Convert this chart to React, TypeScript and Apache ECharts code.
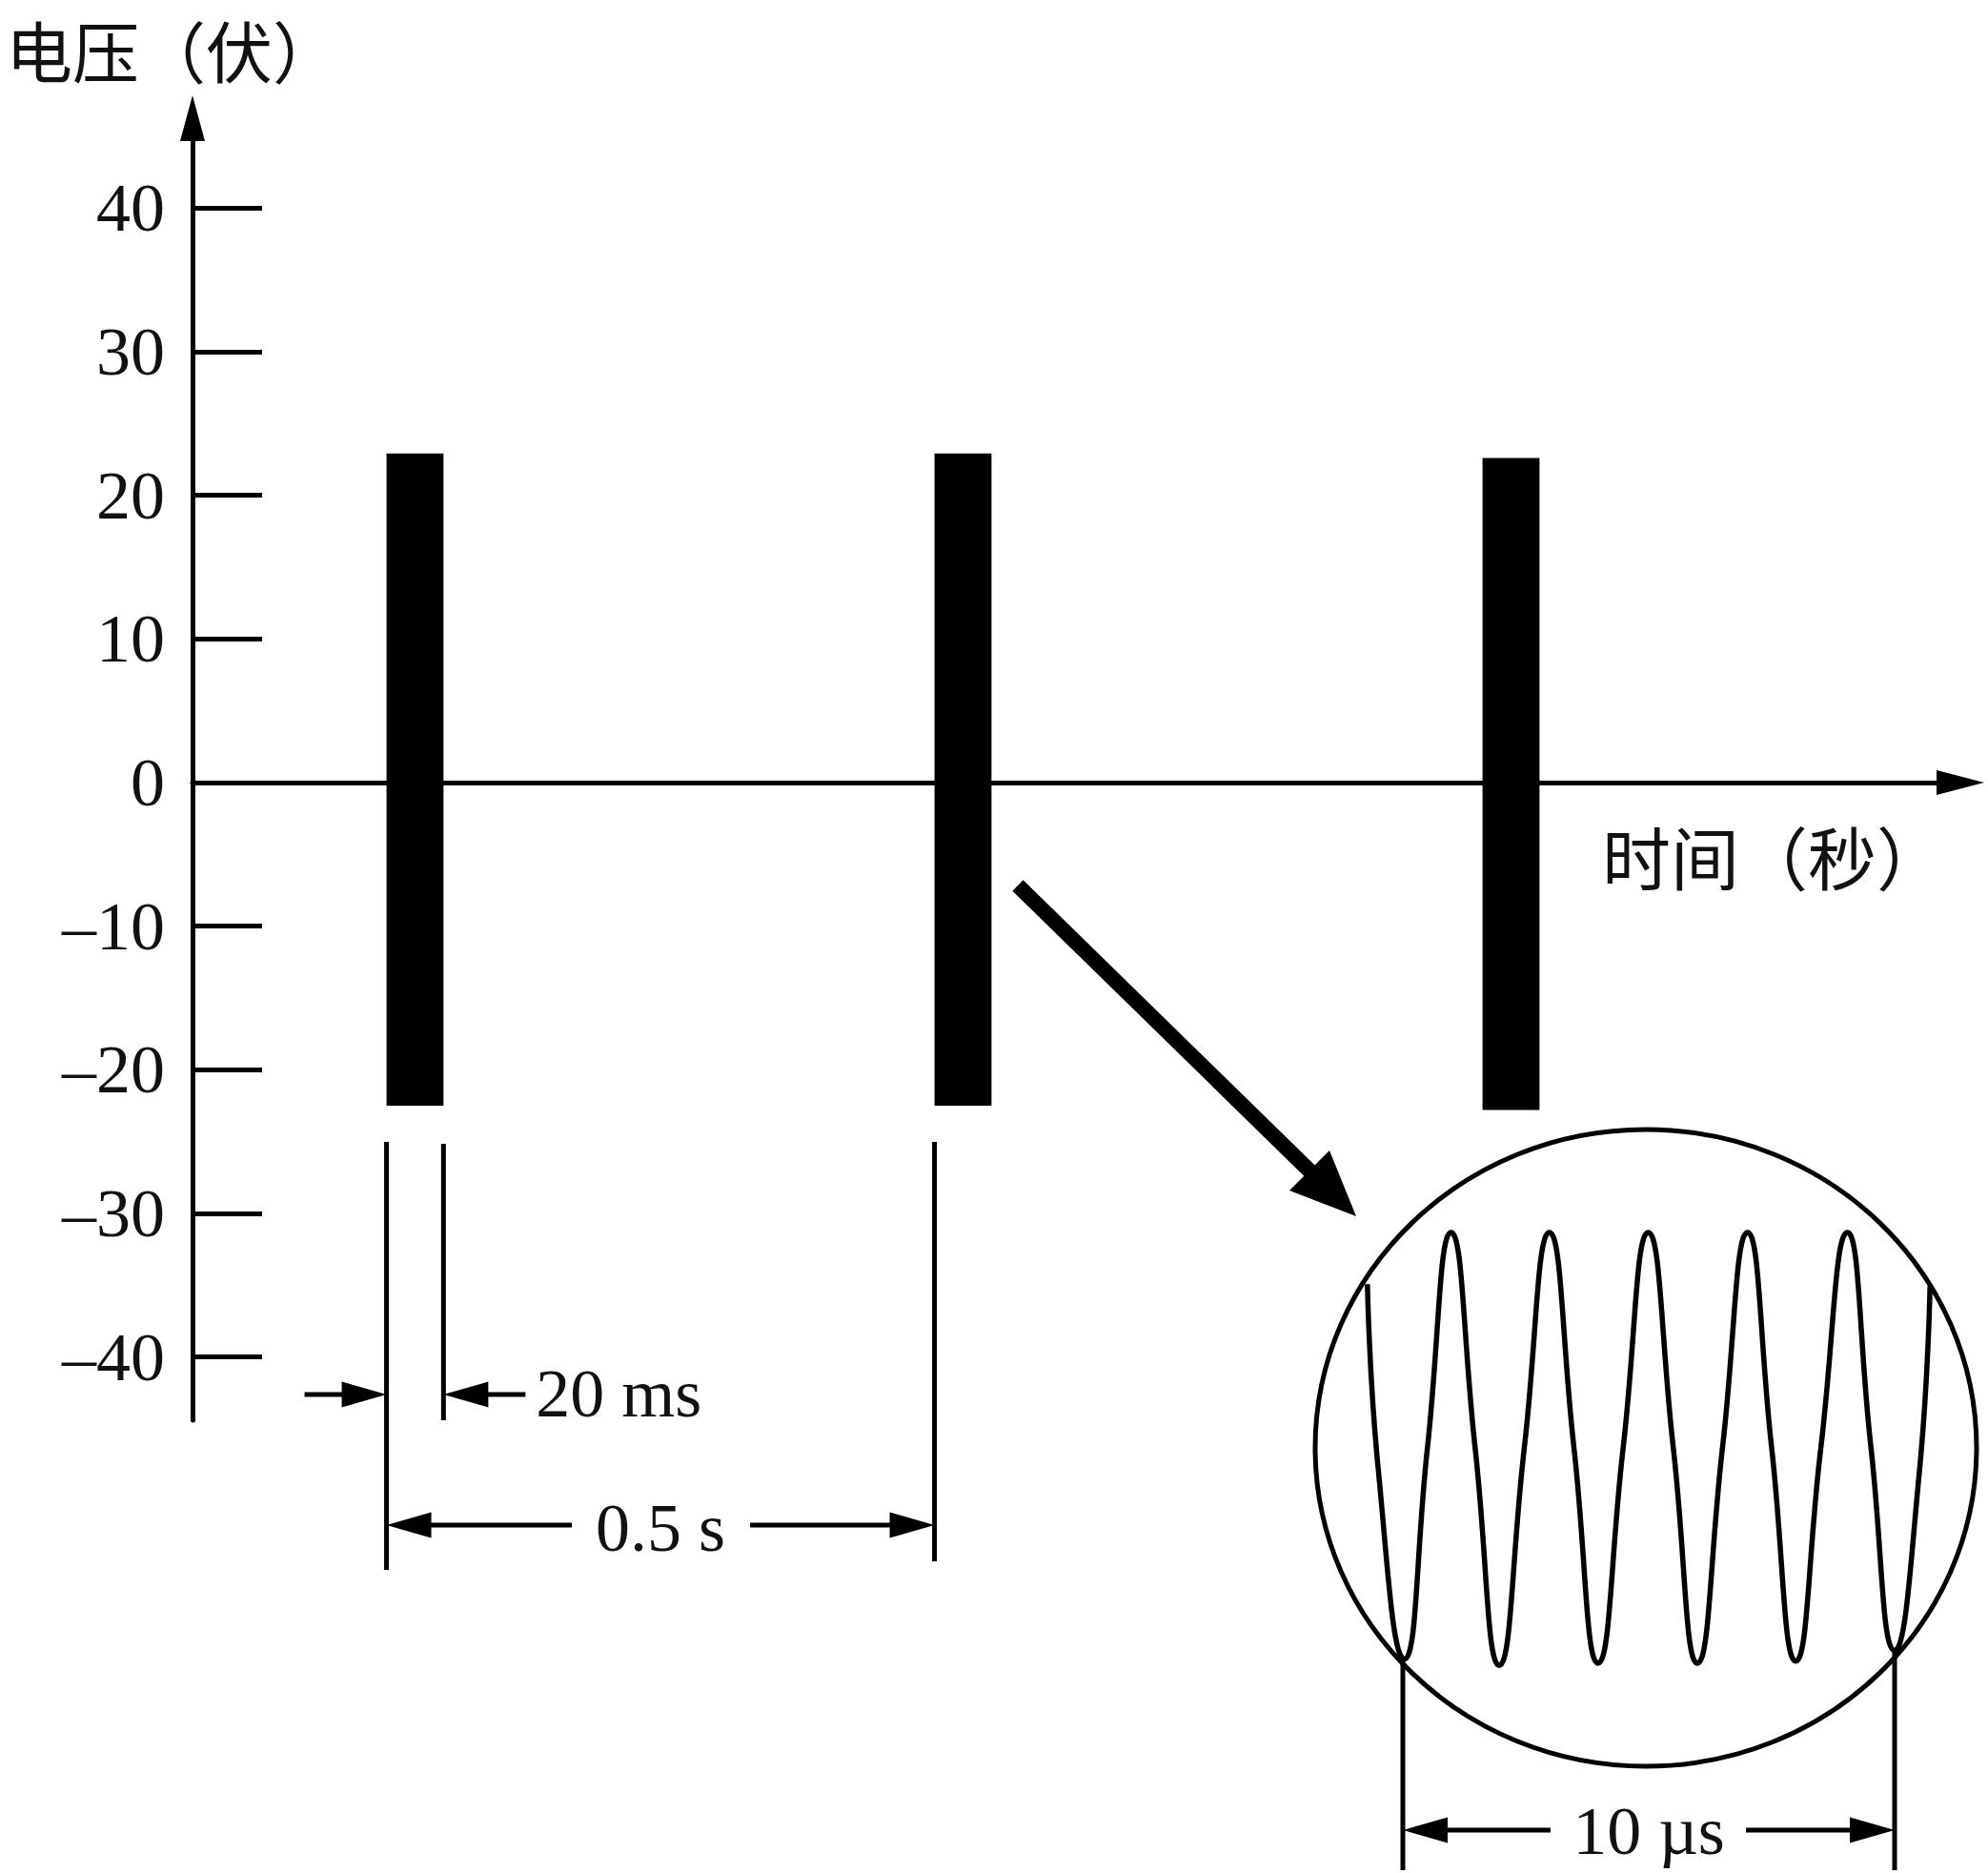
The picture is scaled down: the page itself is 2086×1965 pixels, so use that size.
import React, { useEffect, useRef } from "react";
import * as echarts from "echarts";

// ---- data ----
const yTicks = [-40, -30, -20, -10, 0, 10, 20, 30, 40];
const yMin = -44.4;
const yMax = 46.25;
const xMax = 1.613; // s (end of the time axis)

// pulse bursts (schematic: drawn width is not to scale, labelled 20 ms)
const pulseStart = [0.177, 0.677, 1.177]; // s
const pulseDrawWidth = [0.052, 0.052, 0.052]; // s (drawing width)
const pulseTop = [22.9, 22.9, 22.6]; // V
const pulseBottom = [-22.5, -22.5, -22.8]; // V

// magnified waveform inside the circle (t in µs, normalised amplitude)
const waveT = [-0.72, -0.5, 0.03, 0.5, 0.98, 1.47, 1.96, 2.47, 2.98, 3.48, 3.97, 4.48, 4.99, 5.5, 5.99, 6.5, 7.01, 7.5, 7.99, 8.5, 9.04, 9.52, 10.0, 10.5, 10.72];
const waveV = [0.76, -0.1, -0.98, 0.0, 1.0, 0.0, -1.01, 0.0, 1.0, 0.0, -1.0, 0.0, 1.0, 0.0, -1.0, 0.0, 1.0, 0.0, -0.99, 0.0, 1.0, 0.0, -0.94, -0.12, 0.75];

const yTitle = "电压（伏）";
const xTitle = "时间（秒）";
const labelPulse = "20 ms";
const labelPeriod = "0.5 s";
const labelWave = "10 µs";

const SERIF = '"Liberation Serif", "Times New Roman", serif';
const CJK = '"Noto Sans CJK SC", sans-serif';
const INK = "#111";

function fmtTick(v: number): string {
  return v < 0 ? "\u2013" + Math.abs(v) : String(v);
}

export default function App() {
  const ref = useRef<HTMLDivElement>(null);

  useEffect(() => {
    if (!ref.current) return;
    const chart = echarts.init(ref.current, null, { renderer: "svg" });

    const option: any = {
      animation: false,
      backgroundColor: "#fff",
      grid: [
        { left: 202, top: 124, width: 1855, height: 1366, containLabel: false, outerBoundsMode: "none" },
        { left: 1420.4, top: 1293, width: 619.2, height: 452, containLabel: false, outerBoundsMode: "none" },
      ],
      xAxis: [
        {
          type: "value",
          gridIndex: 0,
          min: 0,
          max: xMax,
          axisLine: {
            show: true,
            onZero: true,
            symbol: ["none", "triangle"],
            symbolSize: [26, 50],
            lineStyle: { color: "#000", width: 5 },
          },
          axisTick: { show: false },
          axisLabel: { show: false },
          splitLine: { show: false },
        },
        {
          type: "value",
          gridIndex: 1,
          min: -1,
          max: 11,
          show: false,
        },
      ],
      yAxis: [
        {
          type: "value",
          gridIndex: 0,
          min: yMin,
          max: yMax,
          axisLine: {
            show: true,
            onZero: true,
            symbol: ["none", "triangle"],
            symbolSize: [26, 48],
            lineStyle: { color: "#000", width: 5 },
          },
          axisTick: {
            show: true,
            inside: true,
            length: 73,
            customValues: yTicks,
            lineStyle: { color: "#000", width: 5 },
          },
          axisLabel: {
            show: true,
            customValues: yTicks,
            margin: 29,
            formatter: (v: number) => fmtTick(v),
            fontFamily: SERIF,
            fontSize: 72,
            color: INK,
          },
          splitLine: { show: false },
        },
        {
          type: "value",
          gridIndex: 1,
          min: -1,
          max: 1,
          show: false,
        },
      ],
      series: [
        {
          type: "custom",
          xAxisIndex: 0,
          yAxisIndex: 0,
          clip: false,
          z: 3,
          data: pulseStart.map((s, i) => [s, s + pulseDrawWidth[i], pulseBottom[i], pulseTop[i]]),
          encode: { x: [0, 1], y: [2, 3] },
          renderItem: (params: any, api: any) => {
            const p1 = api.coord([api.value(0), api.value(3)]);
            const p2 = api.coord([api.value(1), api.value(2)]);
            return {
              type: "rect",
              shape: { x: p1[0], y: p1[1], width: p2[0] - p1[0], height: p2[1] - p1[1] },
              style: { fill: "#000" },
            };
          },
        },
        {
          type: "line",
          xAxisIndex: 1,
          yAxisIndex: 1,
          data: waveT.map((t, i) => [t, waveV[i]]),
          smooth: 0.5,
          symbol: "none",
          clip: false,
          lineStyle: { color: "#000", width: 5.5 },
          z: 4,
        },
      ],
    };
    chart.setOption(option);

    const px = (v: number) => chart.convertToPixel({ xAxisIndex: 0 }, v) as number;
    const ix = (v: number) => chart.convertToPixel({ xAxisIndex: 1 }, v) as number;
    const iy = (v: number) => chart.convertToPixel({ yAxisIndex: 1 }, v) as number;

    const LW = 5;
    const line = (x1: number, y1: number, x2: number, y2: number, w = LW) => ({
      type: "line",
      shape: { x1, y1, x2, y2 },
      style: { stroke: "#000", lineWidth: w },
      z: 10,
    });
    const head = (tipX: number, y: number, dir: number, L = 47, hw = 13.5) => ({
      type: "polygon",
      shape: { points: [[tipX, y], [tipX - dir * L, y - hw], [tipX - dir * L, y + hw]] },
      style: { fill: "#000" },
      z: 10,
    });
    const text = (t: string, x: number, y: number, font: string, align = "center", valign = "middle") => ({
      type: "text",
      z: 10,
      style: {
        text: t,
        x,
        y,
        font,
        fill: INK,
        align,
        textAlign: align,
        verticalAlign: valign,
        textVerticalAlign: valign,
      },
    });

    const b1L = px(pulseStart[0]);
    const b1R = px(pulseStart[0] + pulseDrawWidth[0]);
    const b2L = px(pulseStart[1]);
    const w0 = ix(0);
    const w10 = ix(10);
    const trough0 = iy(waveV[2]);
    const troughN = iy(waveV[22]);

    const els: any[] = [];
    // axis titles
    els.push(text(yTitle, 6, 17, `70px ${CJK}`, "left", "top"));
    els.push(text(xTitle, 1681, 896, `72px ${CJK}`, "left"));

    // extension lines
    els.push(line(b1L, 1198, b1L, 1647));
    els.push(line(b1R, 1200, b1R, 1490));
    els.push(line(b2L, 1198, b2L, 1638));
    els.push(line(w0, trough0, w0, 1962));
    els.push(line(w10, troughN, w10, 1962));

    // 20 ms
    const y20 = 1463;
    els.push(line(b1L - 86, y20, b1L - 20, y20));
    els.push(head(b1L, y20, 1));
    els.push(line(b1R + 20, y20, b1R + 86, y20));
    els.push(head(b1R, y20, -1));
    els.push(text(labelPulse, b1R + 97, y20 - 1, `72px ${SERIF}`, "left"));

    // 0.5 s
    const y05 = 1600;
    const m05 = (b1L + b2L) / 2;
    els.push(head(b1L, y05, -1));
    els.push(line(b1L + 20, y05, m05 - 93, y05));
    els.push(line(m05 + 94, y05, b2L - 20, y05));
    els.push(head(b2L, y05, 1));
    els.push(text(labelPeriod, m05, y05 + 3, `72px ${SERIF}`));

    // 10 µs
    const y10 = 1920;
    const m10 = (w0 + w10) / 2;
    els.push(head(w0, y10, -1));
    els.push(line(w0 + 20, y10, m10 - 103, y10));
    els.push(line(m10 + 102, y10, w10 - 20, y10));
    els.push(head(w10, y10, 1));
    els.push(text(labelWave, m10, y10 + 1, `72px ${SERIF}`));

    // magnifier circle
    els.push({
      type: "ellipse",
      shape: { cx: 1727, cy: 1519, rx: 347, ry: 334 },
      style: { fill: "none", stroke: "#000", lineWidth: 5 },
      z: 9,
    });

    // diagonal pointer arrow
    els.push(line(1068, 929, 1380, 1234, 16));
    els.push({
      type: "polygon",
      shape: { points: [[1423, 1276], [1353, 1249], [1395, 1207]] },
      style: { fill: "#000" },
      z: 10,
    });

    chart.setOption({ graphic: { elements: els } });

    return () => {
      chart.dispose();
    };
  }, []);

  return (
    <div
      ref={ref}
      style={{ position: "absolute", left: 0, top: 0, width: 2086, height: 1965, background: "#fff" }}
    />
  );
}
